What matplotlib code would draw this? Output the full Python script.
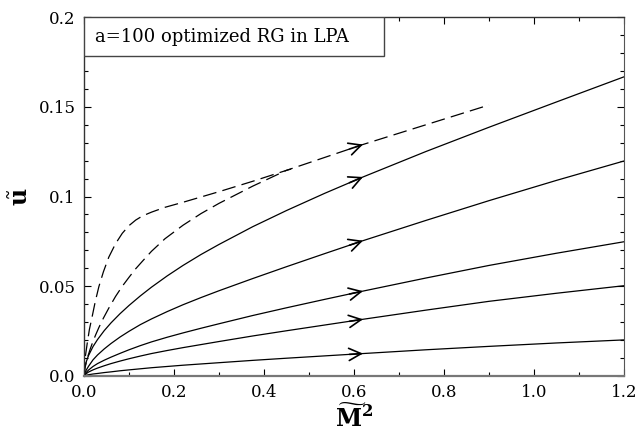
import numpy as np
import matplotlib
matplotlib.use("Agg")
import matplotlib.pyplot as plt
from matplotlib.ticker import MultipleLocator
from matplotlib.patches import Rectangle

# common M~^2 grid for the solid flows
m_solid = [0, 0.002, 0.005, 0.01, 0.02, 0.03, 0.045, 0.06, 0.08, 0.1, 0.125, 0.15,
           0.185, 0.22, 0.26, 0.30, 0.375, 0.45, 0.535, 0.62, 0.76, 0.9, 1.05, 1.2]
u_a = [0, 0.0045, 0.0079, 0.0114, 0.0164, 0.0203, 0.0253, 0.0296, 0.0347, 0.0393, 0.0446, 0.0495,
       0.0558, 0.0616, 0.0677, 0.0733, 0.0832, 0.0922, 0.1018, 0.1109, 0.1251, 0.1386, 0.1527, 0.1667]
u_b = [0, 0.0017, 0.0033, 0.0054, 0.0090, 0.0117, 0.0151, 0.0181, 0.0217, 0.0249, 0.0286, 0.0318,
       0.0359, 0.0397, 0.0437, 0.0475, 0.0543, 0.0609, 0.0682, 0.0754, 0.0867, 0.0977, 0.1090, 0.1198]
u_c = [0, 0.0010, 0.0020, 0.0033, 0.0053, 0.0069, 0.0088, 0.0105, 0.0126, 0.0146, 0.0169, 0.0190,
       0.0216, 0.0240, 0.0266, 0.0291, 0.0337, 0.0380, 0.0427, 0.0473, 0.0546, 0.0616, 0.0684, 0.0748]
u_d = [0, 0.0006, 0.0013, 0.0022, 0.0034, 0.0044, 0.0057, 0.0069, 0.0083, 0.0096, 0.0111, 0.0125,
       0.0142, 0.0158, 0.0175, 0.0192, 0.0223, 0.0252, 0.0284, 0.0316, 0.0367, 0.0416, 0.0461, 0.0503]
u_e = [0, 0.0002, 0.0004, 0.0007, 0.0011, 0.0014, 0.0019, 0.0023, 0.0029, 0.0034, 0.0040, 0.0046,
       0.0053, 0.0060, 0.0067, 0.0074, 0.0087, 0.0099, 0.0112, 0.0125, 0.0146, 0.0165, 0.0184, 0.0201]

# dashed flows (they merge near M~^2 = 0.45)
m_dash1 = [0, 0.001, 0.003, 0.007, 0.012, 0.018, 0.025, 0.033, 0.043, 0.055, 0.07, 0.085, 0.1,
           0.115, 0.13, 0.15, 0.18, 0.22, 0.30, 0.375, 0.45, 0.535, 0.62, 0.76, 0.9]
u_dash1 = [0, 0.006, 0.011, 0.018, 0.026, 0.033, 0.0415, 0.0498, 0.058, 0.0662, 0.0737, 0.0795, 0.0838,
           0.0869, 0.0892, 0.0913, 0.0940, 0.0968, 0.1027, 0.1085, 0.1146, 0.1218, 0.1290, 0.1400, 0.1510]
m_dash2 = [0, 0.002, 0.005, 0.009, 0.014, 0.02, 0.026, 0.033, 0.043, 0.055, 0.07, 0.085, 0.1,
           0.115, 0.13, 0.15, 0.18, 0.22, 0.26, 0.30, 0.375, 0.45, 0.46]
u_dash2 = [0, 0.0045, 0.0078, 0.0113, 0.0152, 0.0193, 0.0230, 0.0270, 0.0322, 0.0378, 0.0443, 0.0500, 0.0550,
           0.0598, 0.0640, 0.0695, 0.0765, 0.0840, 0.0905, 0.0962, 0.1058, 0.1146, 0.1153]

arrow_m = 0.62  # where the arrow heads sit
box_text = 'a=100 optimized RG in LPA'

plt.rcParams['font.family'] = ['DejaVu Serif']
plt.rcParams['mathtext.fontset'] = 'dejavuserif'

fig = plt.figure(figsize=(6.38, 4.38), dpi=100)
ax = fig.add_axes([0.1317, 0.1416, 0.978 - 0.1317, 0.961 - 0.1416])

for u in [u_a, u_b, u_c, u_d, u_e]:
    ax.plot(m_solid, u, color='black', lw=0.9)
ax.plot(m_dash1, u_dash1, color='black', lw=0.9, dashes=(11, 5))
ax.plot(m_dash2, u_dash2, color='black', lw=0.9, dashes=(11, 5))

# arrow heads on the flows
for mm, uu in [(m_solid, u) for u in [u_a, u_b, u_c, u_d, u_e]] + [(m_dash1, u_dash1)]:
    y0 = np.interp(arrow_m - 0.03, mm, uu)
    y1 = np.interp(arrow_m, mm, uu)
    ax.annotate('', xy=(arrow_m, y1), xytext=(arrow_m - 0.03, y0),
                arrowprops=dict(arrowstyle='->', color='black', lw=1.2,
                                mutation_scale=22, shrinkA=0, shrinkB=0))

ax.set_xlim(0, 1.2)
ax.set_ylim(0, 0.2)
ax.xaxis.set_minor_locator(MultipleLocator(0.1))
ax.yaxis.set_minor_locator(MultipleLocator(0.01))
ax.set_xticks([0, 0.2, 0.4, 0.6, 0.8, 1.0, 1.2])
ax.set_xticklabels(['0.0', '0.2', '0.4', '0.6', '0.8', '1.0', '1.2'])
ax.set_yticks([0, 0.05, 0.1, 0.15, 0.2])
ax.set_yticklabels(['0.0', '0.05', '0.1', '0.15', '0.2'])
ax.tick_params(which='both', direction='in', top=True, right=True, labelsize=12, pad=6)
ax.tick_params(which='major', length=5, width=0.8)
ax.tick_params(which='minor', length=3, width=0.8)

for side in ['left', 'top']:
    ax.spines[side].set_color('#333333')
    ax.spines[side].set_linewidth(1.0)
ax.spines['right'].set_color('#555555')
ax.spines['bottom'].set_color('#777777')
ax.spines['bottom'].set_linewidth(1.6)

ax.set_xlabel(r'$\widetilde{\mathbf{M}}^{\mathbf{2}}$', fontsize=17, labelpad=2)
ax.set_ylabel(r'$\tilde{\mathbf{u}}$', fontsize=17, labelpad=4)

# label box glued to the top-left corner of the frame
ax.add_patch(Rectangle((0, 0.891), 0.5556, 0.109, transform=ax.transAxes,
                       fc='white', ec='#444444', lw=1.0, zorder=3))
ax.text(0.02, 0.945, box_text, transform=ax.transAxes, fontsize=13,
        va='center', ha='left', zorder=4)

fig.savefig('out.png', dpi=100)
